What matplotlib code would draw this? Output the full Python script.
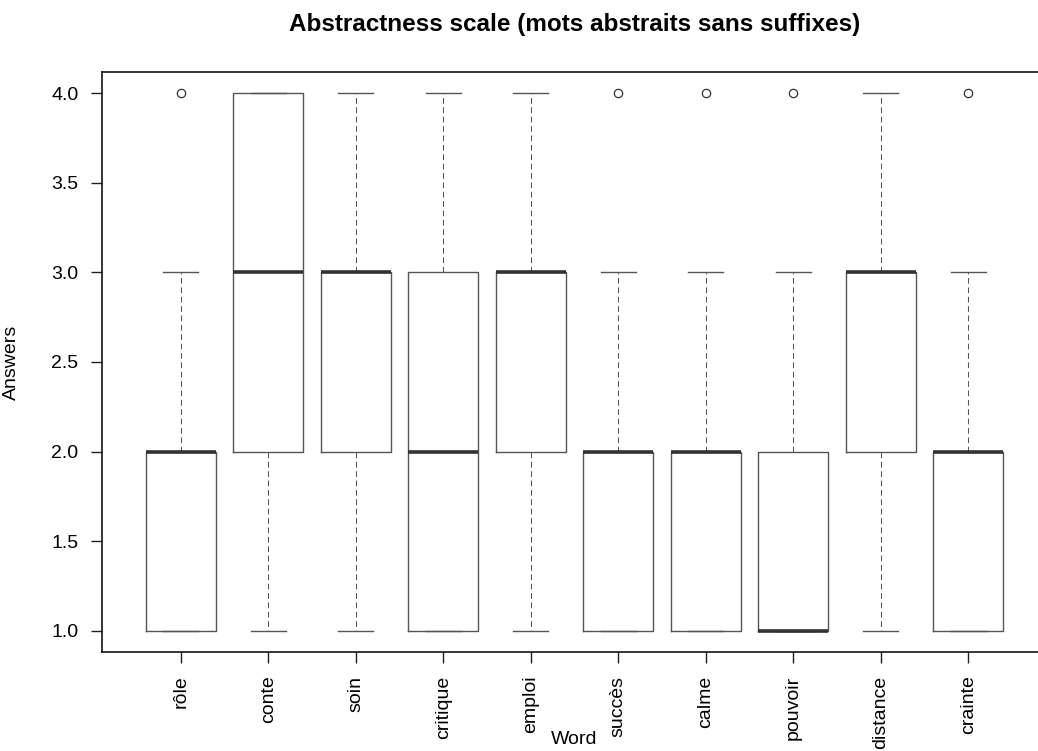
import matplotlib.pyplot as plt

plt.rcParams['font.family'] = ['Liberation Sans', 'DejaVu Sans']

# data
words = ['rôle', 'conte', 'soin', 'critique', 'emploi',
         'succès', 'calme', 'pouvoir', 'distance', 'crainte']
q1 = [1, 2, 2, 1, 2, 1, 1, 1, 2, 1]
medians = [2, 3, 3, 2, 3, 2, 2, 1, 3, 2]
q3 = [2, 4, 3, 3, 3, 2, 2, 2, 3, 2]
whis_low = [1, 1, 1, 1, 1, 1, 1, 1, 1, 1]
whis_high = [3, 4, 4, 4, 4, 3, 3, 3, 4, 3]
outliers = [[4], [], [], [], [], [4], [4], [4], [], [4]]

stats = []
for i in range(len(words)):
    stats.append({'label': words[i], 'q1': q1[i], 'med': medians[i], 'q3': q3[i],
                  'whislo': whis_low[i], 'whishi': whis_high[i], 'fliers': outliers[i]})

fig = plt.figure(figsize=(10.38, 7.51), dpi=100)
ax = fig.add_axes([102 / 1038, 99 / 751, 945 / 1038, 580 / 751])

line_col = '#555555'
ax.bxp(stats, positions=range(1, len(words) + 1), widths=0.8,
       boxprops=dict(color=line_col, linewidth=1.0),
       medianprops=dict(color='#333333', linewidth=2.6, solid_capstyle='butt'),
       whiskerprops=dict(color=line_col, linewidth=0.75, linestyle=(0, (5.5, 3.5))),
       capprops=dict(color=line_col, linewidth=1.0),
       flierprops=dict(marker='o', markerfacecolor='none', markeredgecolor='#333333',
                       markersize=6, markeredgewidth=0.9),
       capwidths=0.4)

ax.set_xlim(0.1, 10.9)
ax.set_ylim(0.88, 4.12)
ax.set_yticks([1.0, 1.5, 2.0, 2.5, 3.0, 3.5, 4.0])
ax.set_yticklabels(['1.0', '1.5', '2.0', '2.5', '3.0', '3.5', '4.0'])
ax.set_xticks(range(1, len(words) + 1))
ax.set_xticklabels(words, rotation=90, va='top')
ax.tick_params(axis='both', length=8, width=1.0, color='#222222', labelsize=14)
ax.tick_params(axis='x', pad=9)
ax.tick_params(axis='y', pad=9)
for s in ax.spines.values():
    s.set_linewidth(1.1)
    s.set_color('black')

ax.set_ylabel('Answers', fontsize=14)
ax.yaxis.set_label_coords(-82 / 945, 0.5)
fig.text(574.5 / 1038, 1 - 739 / 751, 'Word', fontsize=14, ha='center', va='center')
fig.text(574.5 / 1038, 1 - 25 / 751, 'Abstractness scale (mots abstraits sans suffixes)',
         fontsize=17.5, fontweight='bold', ha='center', va='center')

fig.savefig('out.png', dpi=100)
